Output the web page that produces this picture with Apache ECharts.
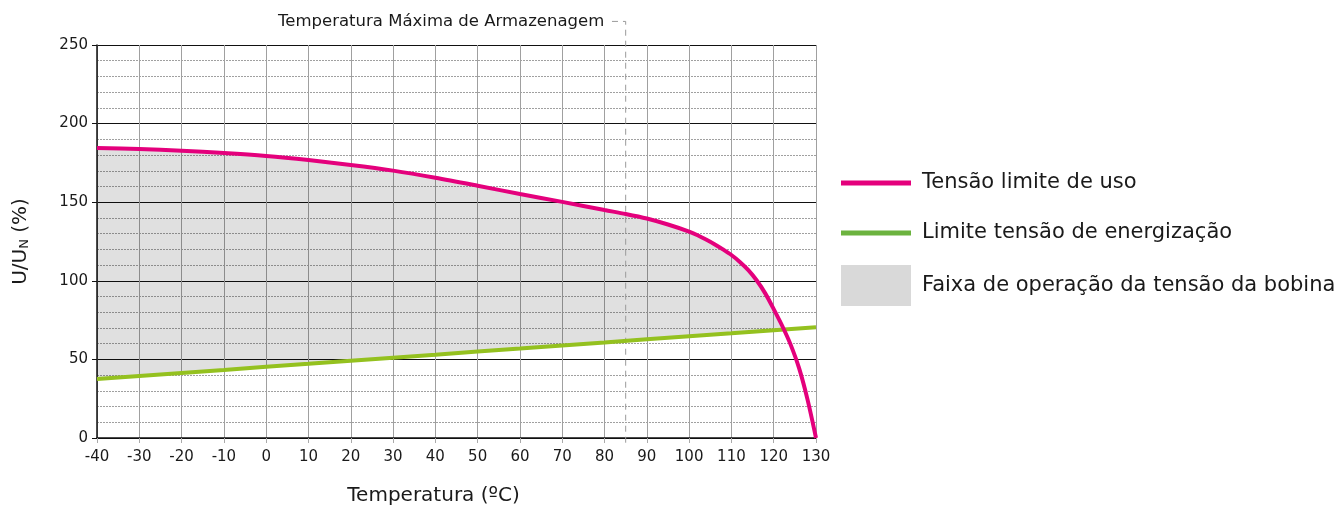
<!DOCTYPE html>
<html>
<head>
<meta charset="utf-8">
<script src="https://cdn.jsdelivr.net/npm/echarts@6/dist/echarts.min.js"></script>
<style>
  html, body { margin: 0; padding: 0; background: #fff; }
  #chart { width: 1341px; height: 506px; }
</style>
</head>
<body>
<div id="chart"></div>
<script>
// ---- Data ----
const xMin = -40, xMax = 130, xStep = 10;      // Temperatura (ºC) ticks
const yMin = 0, yMax = 250, yStep = 50;        // U/UN (%) ticks

// Tensão limite de uso (pink curve)
const pinkTemps  = [-40, -30, -20, -10, 0, 10, 20, 30, 40, 50, 60, 70, 80, 85, 90, 95, 100, 102, 104, 106, 108, 110, 112, 114, 116, 118, 120, 122, 124, 126, 128, 130];
const pinkValues = [184.5, 183.8, 182.8, 181.3, 179.4, 176.8, 173.7, 170.1, 165.6, 160.5, 155.2, 150.2, 145, 142.5, 139.6, 135.8, 131.3, 129, 126.3, 123.3, 120, 116.4, 112, 106.8, 100.2, 92, 82, 71.4, 59.4, 44.4, 24.4, 0];

// Limite tensão de energização (green line)
const greenTemps  = [-40, -30, -20, -10, 0, 10, 20, 30, 40, 50, 60, 70, 80, 90, 100, 110, 120, 130];
const greenValues = [37.5, 39.5, 41.4, 43.3, 45.3, 47.2, 49.2, 51.1, 53.0, 55.0, 56.9, 58.9, 60.8, 62.8, 64.7, 66.6, 68.6, 70.5];

// Crossing point of the two curves (end of the operating band)
const crossPoint = [122.4, 69.1];

// Temperatura Máxima de Armazenagem
const storageTemp = 85;
const storageLabel = 'Temperatura Máxima de Armazenagem';
const leaderTop = 265, leaderBottom = -3, leaderEnd = 81.7;

const names = {
  pink: 'Tensão limite de uso',
  green: 'Limite tensão de energização',
  band: 'Faixa de operação da tensão da bobina'
};

// ---- Build series data ----
const pinkData = pinkTemps.map((t, i) => [t, pinkValues[i]]);
const greenData = greenTemps.map((t, i) => [t, greenValues[i]]);

// polygon of the band: upper edge (pink) forward, lower edge (green) backward
const bandPoly = [];
pinkData.forEach(p => { if (p[0] < crossPoint[0]) bandPoly.push(p); });
bandPoly.push(crossPoint);
for (let i = greenData.length - 1; i >= 0; i--) {
  if (greenData[i][0] < crossPoint[0]) bandPoly.push(greenData[i]);
}

const FONT = 'DejaVu Sans';
const TXT = '#1a1a1a';

const legendText = { fontFamily: FONT, fontSize: 21, color: TXT, lineHeight: 26, padding: [0, 0, 0, 6] };
function legendBox(top, item, h) {
  return {
    orient: 'vertical', left: 841, top: top, padding: 0,
    itemWidth: 70, itemHeight: h, selectedMode: false,
    textStyle: legendText, data: [item]
  };
}

const chart = echarts.init(document.getElementById('chart'), null, { renderer: 'canvas' });

chart.setOption({
  animation: false,
  backgroundColor: '#ffffff',
  textStyle: { fontFamily: FONT, color: TXT },
  grid: { left: 97, right: 525, top: 45, bottom: 68, containLabel: false, outerBoundsMode: 'none' },
  xAxis: {
    type: 'value',
    min: xMin, max: xMax, interval: xStep,
    name: 'Temperatura (ºC)',
    nameLocation: 'middle',
    nameGap: 48,
    nameTextStyle: { fontFamily: FONT, fontSize: 20, color: TXT, padding: [0, 46, 0, 0] },
    axisLine: { show: true, onZero: false, lineStyle: { color: '#111', width: 1.5 } },
    axisTick: { show: true, length: 5, lineStyle: { color: '#aaa' } },
    axisLabel: { fontFamily: FONT, fontSize: 15, color: TXT, margin: 12 },
    splitLine: { show: true, lineStyle: { color: '#a0a0a0', width: 1 } }
  },
  yAxis: {
    type: 'value',
    min: yMin, max: yMax, interval: yStep,
    name: 'U/U{s|N} (%)',
    nameLocation: 'middle',
    nameRotate: 90,
    nameGap: 66,
    nameTextStyle: {
      fontFamily: FONT, fontSize: 20, color: TXT,
      rich: { s: { fontFamily: FONT, fontSize: 13, color: TXT, verticalAlign: 'bottom', padding: [8, 0, 0, 0] } }
    },
    axisLine: { show: true, onZero: false, lineStyle: { color: '#111', width: 1.5 } },
    axisTick: { show: true, length: 5, lineStyle: { color: '#111' } },
    axisLabel: { fontFamily: FONT, fontSize: 15, color: TXT, margin: 9 },
    splitLine: { show: true, lineStyle: { color: '#111', width: 1.2 } },
    minorTick: { show: false, splitNumber: 5 },
    minorSplitLine: { show: true, lineStyle: { color: '#a0a0a0', width: 1, type: [2, 1] } }
  },
  legend: [
    legendBox(170, { name: names.pink, icon: 'rect', itemStyle: { color: '#e4007c' } }, 5),
    legendBox(220, { name: names.green, icon: 'rect', itemStyle: { color: '#6cb33f' } }, 5),
    legendBox(265, { name: names.band, icon: 'rect', itemStyle: { color: '#d9d9d9' } }, 41)
  ],
  series: [
    {
      name: names.band,
      type: 'custom',
      z: 1,
      silent: true,
      data: bandPoly,
      encode: { x: 0, y: 1 },
      itemStyle: { color: '#d9d9d9' },
      renderItem: function (params, api) {
        if (params.dataIndex !== 0) return null;
        const pts = bandPoly.map(p => api.coord(p));
        return {
          type: 'polygon',
          shape: { points: pts },
          style: { fill: 'rgba(0,0,0,0.12)', stroke: null }
        };
      }
    },
    {
      name: 'storage',
      type: 'line',
      z: 3,
      clip: false,
      silent: true,
      symbol: 'circle',
      symbolSize: 1,
      itemStyle: { color: 'rgba(0,0,0,0)' },
      lineStyle: { color: '#9a9a9a', width: 1, type: [6, 5] },
      data: [
        [storageTemp, leaderBottom],
        [storageTemp, leaderTop],
        {
          value: [leaderEnd, leaderTop],
          label: {
            show: true, position: 'left', distance: 7,
            formatter: storageLabel,
            fontFamily: FONT, fontSize: 16.5, color: TXT
          }
        }
      ]
    },
    {
      name: names.green,
      type: 'line',
      z: 4,
      symbol: 'none',
      lineStyle: { color: '#94c11f', width: 4 },
      itemStyle: { color: '#94c11f' },
      data: greenData
    },
    {
      name: names.pink,
      type: 'line',
      z: 5,
      symbol: 'none',
      smooth: 0.3,
      clip: false,
      lineStyle: { color: '#e4007c', width: 4 },
      itemStyle: { color: '#e4007c' },
      data: pinkData
    }
  ]
});
</script>
</body>
</html>
